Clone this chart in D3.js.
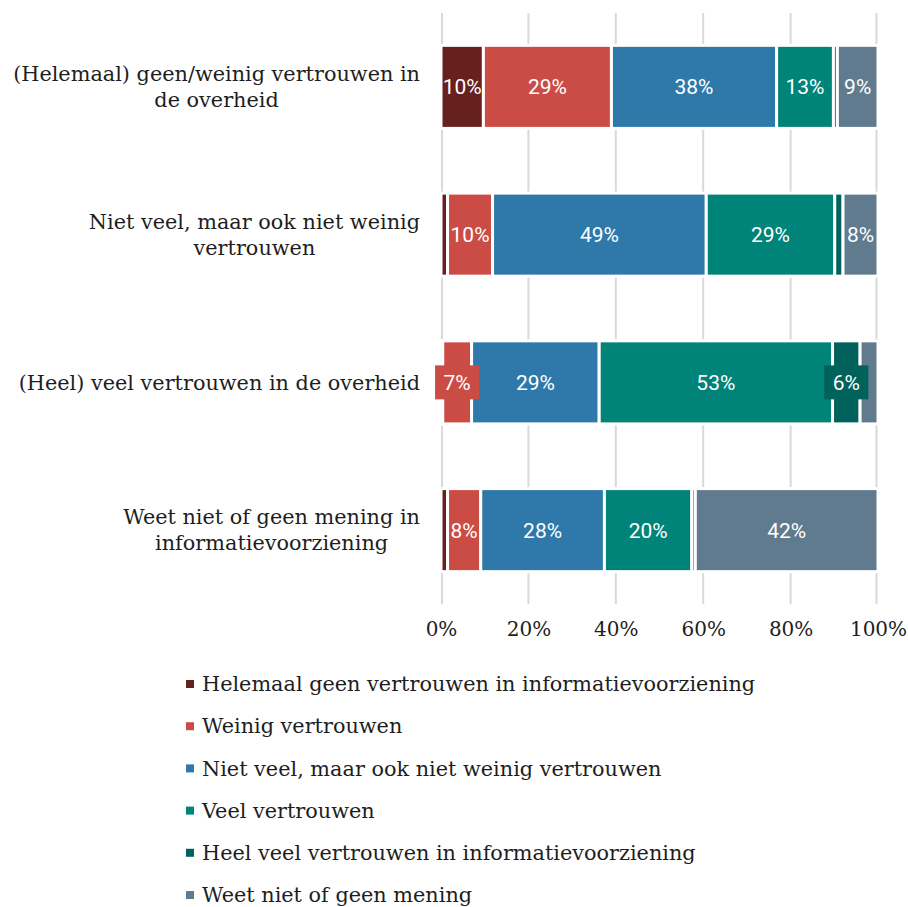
<!DOCTYPE html>
<html>
<head>
<meta charset="utf-8">
<script src="https://cdn.jsdelivr.net/npm/d3@7"></script>
<style>
  body { margin: 0; background: #fff; }
  svg text { font-family: "DejaVu Serif", serif; fill: #1e1e1e; }
  .barlabel { font-family: Roboto, sans-serif; fill: #fff; }
</style>
</head>
<body>
<div id="chart"></div>
<script>
// categories (each entry is the lines of the label)
var categories = [
  ["(Helemaal) geen/weinig vertrouwen in", "de overheid"],
  ["Niet veel, maar ook niet weinig", "vertrouwen"],
  ["(Heel) veel vertrouwen in de overheid"],
  ["Weet niet of geen mening in", "informatievoorziening"]
]
var seriesNames = [
  "Helemaal geen vertrouwen in informatievoorziening",
  "Weinig vertrouwen",
  "Niet veel, maar ook niet weinig vertrouwen",
  "Veel vertrouwen",
  "Heel veel vertrouwen in informatievoorziening",
  "Weet niet of geen mening"
]
var seriesColors = ["#66211f", "#cb4c44", "#2e79aa", "#008378", "#00625a", "#607a8e"]

// values per series (percent), one per category
var helemaalGeen = [9.7, 1.5, 0.4, 1.5]
var weinig       = [29.3, 10.3, 6.6, 7.6]
var nietVeel     = [37.8, 48.9, 29.2, 28.3]
var veel         = [13.0, 29.4, 53.4, 20.0]
var heelVeel     = [0.9, 1.9, 6.3, 0.8]
var weetNiet     = [9.3, 8.0, 4.1, 41.8]

var tickValues = [0, 0.2, 0.4, 0.6, 0.8, 1]

var series = [helemaalGeen, weinig, nietVeel, veel, heelVeel, weetNiet]

var width = 908, height = 907

var svg = d3.select("#chart")
  .append("svg")
  .attr("width", width)
  .attr("height", height)

var x = d3.scaleLinear()
  .domain([0, 1])
  .range([441, 878])

var y = d3.scaleBand()
  .domain(d3.range(categories.length))
  .range([13, 604])
  .paddingInner(0.438)
  .paddingOuter(0.219)

// gridlines
svg.append("g")
  .selectAll("line")
  .data(tickValues)
  .enter()
  .append("line")
  .attr("x1", function(d) { return x(d) + (d == 0 ? 1 : d == 1 ? -1.5 : 0) })
  .attr("x2", function(d) { return x(d) + (d == 0 ? 1 : d == 1 ? -1.5 : 0) })
  .attr("y1", 13)
  .attr("y2", 604)
  .attr("stroke", "#d9d9d9")
  .attr("stroke-width", 2)

// x axis tick labels
var xAxis = svg.append("g")
  .attr("transform", "translate(0,604)")
  .call(d3.axisBottom(x).tickValues(tickValues).tickFormat(d3.format(".0%")).tickSize(0).tickPadding(18))
xAxis.select(".domain").remove()
xAxis.selectAll("text")
  .attr("font-size", 20)
  .attr("font-family", "DejaVu Serif, serif")
  .attr("fill", "#1e1e1e")

// stacked data
var stacked = categories.map(function(c, i) {
  var acc = 0
  return series.map(function(s, j) {
    var seg = { cat: i, ser: j, x0: acc / 100, x1: (acc + s[i]) / 100, v: s[i] / 100 }
    acc += s[i]
    return seg
  })
})

var rows = svg.append("g")
  .selectAll("g")
  .data(stacked)
  .enter()
  .append("g")

rows.selectAll("rect")
  .data(function(d) { return d })
  .enter()
  .append("rect")
  .attr("x", function(d) { return x(d.x0) })
  .attr("width", function(d) { return Math.max(0, x(d.x1) - x(d.x0)) })
  .attr("y", function(d) { return y(d.cat) })
  .attr("height", y.bandwidth())
  .attr("fill", function(d) { return seriesColors[d.ser] })
  .attr("stroke", "#fff")
  .attr("stroke-width", 3)

// value labels (a box behind the text when it doesn't fit)
var fmt = d3.format(".0%")
stacked.forEach(function(row) {
  row.forEach(function(d) {
    if (d.v < 0.05) return
    var cx = (x(d.x0) + x(d.x1)) / 2
    var cy = y(d.cat) + y.bandwidth() / 2
    var segW = x(d.x1) - x(d.x0) - 3
    var g = svg.append("g")
    var t = g.append("text")
      .attr("class", "barlabel")
      .attr("x", cx)
      .attr("y", cy)
      .attr("dy", "0.36em")
      .attr("text-anchor", "middle")
      .attr("font-size", 21)
      .text(fmt(d.v))
    var tw = t.node().getComputedTextLength()
    if (tw > segW) {
      g.insert("rect", "text")
        .attr("x", cx - tw / 2 - 8.5)
        .attr("y", cy - 17)
        .attr("width", tw + 17)
        .attr("height", 34)
        .attr("fill", seriesColors[d.ser])
    }
  })
})

// category labels: lines centered, block right-aligned at 420
categories.forEach(function(lines, i) {
  var g = svg.append("g")
  var cy = y(i) + y.bandwidth() / 2
  var lh = 26
  var texts = lines.map(function(l, k) {
    return g.append("text")
      .attr("y", cy + (k - (lines.length - 1) / 2) * lh)
      .attr("dy", "0.35em")
      .attr("text-anchor", "middle")
      .attr("font-size", 20.8)
      .text(l)
  })
  var maxW = d3.max(texts, function(t) { return t.node().getComputedTextLength() })
  texts.forEach(function(t) { t.attr("x", 420 - maxW / 2) })
})

// legend
var legend = svg.append("g")
legend.selectAll("rect")
  .data(seriesNames)
  .enter()
  .append("rect")
  .attr("x", 186)
  .attr("y", function(d, i) { return 680 + i * 42.2 })
  .attr("width", 8)
  .attr("height", 8)
  .attr("fill", function(d, i) { return seriesColors[i] })
legend.selectAll("text")
  .data(seriesNames)
  .enter()
  .append("text")
  .attr("x", 202)
  .attr("y", function(d, i) { return 684 + i * 42.2 })
  .attr("dy", "0.35em")
  .attr("font-size", 20.8)
  .text(function(d) { return d })
</script>
</body>
</html>
